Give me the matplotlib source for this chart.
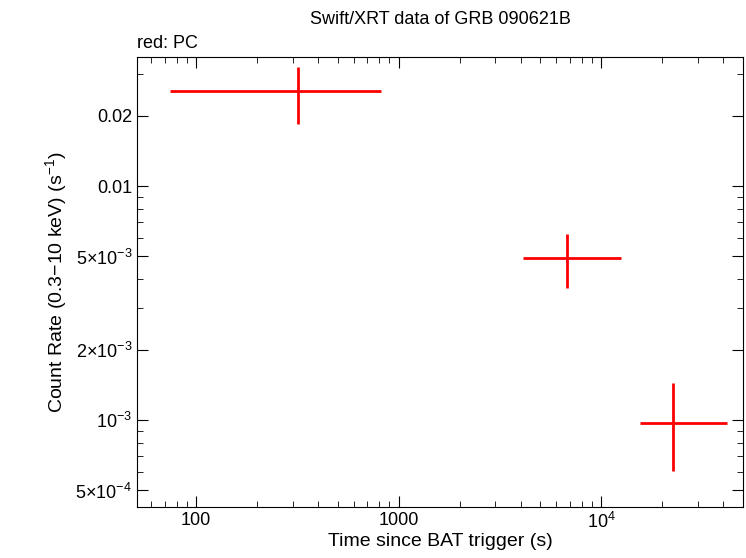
import matplotlib
matplotlib.use("Agg")
import matplotlib.pyplot as plt
from matplotlib.ticker import FixedLocator, FixedFormatter, LogLocator, NullFormatter
plt.rcParams["font.family"] = "Liberation Sans"
plt.rcParams["mathtext.fontset"] = "custom"
plt.rcParams["mathtext.rm"] = "Liberation Sans"

t = [319, 6760, 22700]
t_lo = [74.5, 4093, 15600]
t_hi = [815, 12560, 41900]
rate = [0.0255, 0.00492, 0.00097]
r_lo = [0.0184, 0.00366, 0.000605]
r_hi = [0.0323, 0.00624, 0.00144]

yticks = [0.02, 0.01, 5e-3, 2e-3, 1e-3, 5e-4]
ylabels = ["0.02", "0.01", "5×10$^{-3}$", "2×10$^{-3}$", "10$^{-3}$", "5×10$^{-4}$"]
xticks = [100, 1000, 1e4]
xlabels = ["100", "1000", "10$^{4}$"]

fig = plt.figure(figsize=(7.46, 5.58), dpi=100)
ax = fig.add_axes([137/746, 1-507/558, (743-137)/746, (507-57)/558])
xerr = [[a-b for a, b in zip(t, t_lo)], [b-a for a, b in zip(t, t_hi)]]
yerr = [[a-b for a, b in zip(rate, r_lo)], [b-a for a, b in zip(rate, r_hi)]]
ax.errorbar(t, rate, xerr=xerr, yerr=yerr, fmt="none", ecolor="red", elinewidth=2, capsize=0)
ax.set_xscale("log"); ax.set_yscale("log")
ax.set_xlim(51, 50200); ax.set_ylim(4.25e-4, 0.0356)
ax.yaxis.set_major_locator(FixedLocator(yticks))
ax.yaxis.set_major_formatter(FixedFormatter(ylabels))
ax.yaxis.set_minor_locator(LogLocator(subs=range(1, 10)))
ax.yaxis.set_minor_formatter(NullFormatter())
ax.xaxis.set_major_locator(FixedLocator(xticks))
ax.xaxis.set_major_formatter(FixedFormatter(xlabels))
ax.xaxis.set_minor_locator(LogLocator(subs=range(2, 10)))
ax.xaxis.set_minor_formatter(NullFormatter())
ax.tick_params(which="both", direction="in", top=True, right=True, labelsize=13)
ax.tick_params(which="major", length=8)
ax.tick_params(which="minor", length=4)
ax.set_xlabel("Time since BAT trigger (s)", fontsize=14, labelpad=1)
ax.set_ylabel("Count Rate (0.3$-$10 keV) (s$^{-1}$)", fontsize=14)
ax.set_title("Swift/XRT data of GRB 090621B", fontsize=13, pad=24)
ax.text(0, 1.01, "red: PC", transform=ax.transAxes, fontsize=13, va="bottom")
fig.savefig("out.png")
